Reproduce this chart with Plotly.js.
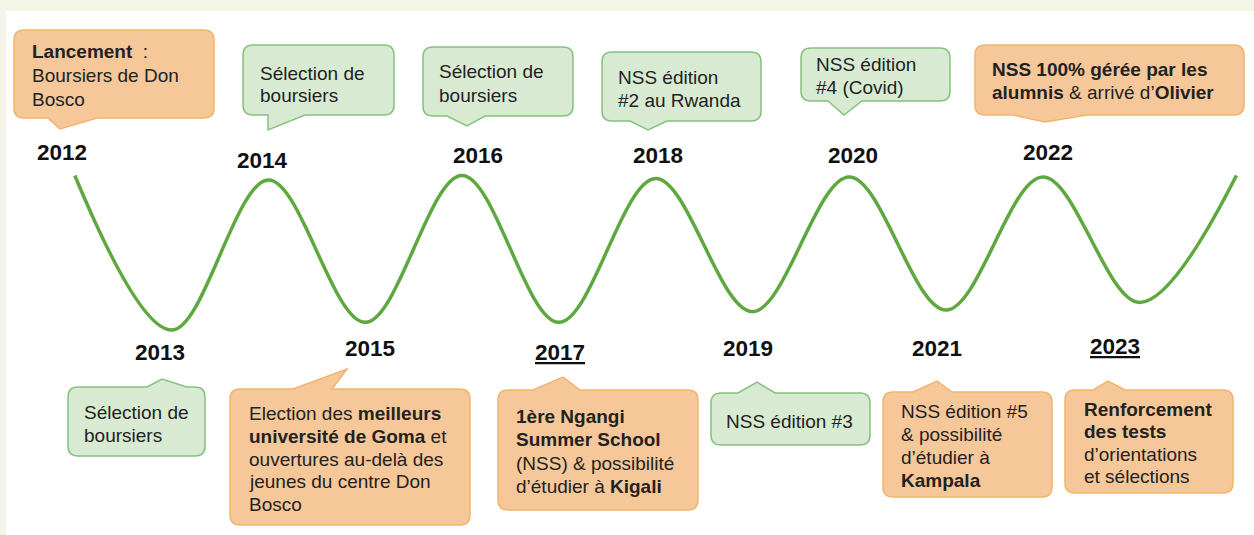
<!DOCTYPE html>
<html>
<head>
<meta charset="utf-8">
<script src="https://cdn.plot.ly/plotly-3.0.1.min.js"></script>
<style>html,body{margin:0;padding:0;background:#fff;}#chart{width:1254px;height:535px;}</style>
</head>
<body>
<div id="chart"></div>
<script>
// ---------------- DATA ----------------
const years = [2012, 2013, 2014, 2015, 2016, 2017, 2018, 2019, 2020, 2021, 2022, 2023];
// Wave: one point per year (peaks / troughs) plus the rising end of the line
const waveX = [2012, 2013, 2014, 2015, 2016, 2017, 2018, 2019, 2020, 2021, 2022, 2023, 2024];
const waveLevel = [101, 0, 98, 5, 101, 5, 99, 12, 100, 13, 100, 18, 101];
const yearLabels = ['2012', '2013', '2014', '2015', '2016', '2017', '2018', '2019', '2020', '2021', '2022', '2023'];
const underlinedYears = [2017, 2023];
const eventKind = ['key', 'sel', 'sel', 'key', 'sel', 'key', 'sel', 'sel', 'sel', 'key', 'key', 'key'];
const eventText = [
  '<b>Lancement</b>  :<br>Boursiers de Don<br>Bosco',
  'Sélection de<br>boursiers',
  'Sélection de<br>boursiers',
  'Election des <b>meilleurs</b><br><b>université de Goma</b> et<br>ouvertures au-delà des<br>jeunes du centre Don<br>Bosco',
  'Sélection de<br>boursiers',
  '<b>1ère Ngangi</b><br><b>Summer School</b><br>(NSS) &amp; possibilité<br>d’étudier à <b>Kigali</b>',
  'NSS édition<br>#2 au Rwanda',
  'NSS édition #3',
  'NSS édition<br>#4 (Covid)',
  'NSS édition #5<br>&amp; possibilité<br>d’étudier à<br><b>Kampala</b>',
  '<b>NSS 100% gérée par les</b><br><b>alumnis</b> &amp; arrivé d’<b>Olivier</b>',
  '<b>Renforcement</b><br><b>des tests</b><br>d’orientations<br>et sélections'
];

// ---------------- LAYOUT (pixel geometry, styles) ----------------
const W = 1254, H = 535, ML = 6, MT = 11;
const PW = W - ML, PH = H - MT;
const px = x => (x - ML) / PW;
const py = y => (H - y) / PH;
// year label centres (pixels)
const labelPos = [[62,153],[160,352],[262,160],[370,348],[478,155],[560,352],[658,155],[748,348],[853,155],[937,348],[1048,153],[1115,346]];
// bubble geometry: box [x0,y0,x1,y1], tail [base1, base2, tipX, tipY], text [x, firstBaseline, lineGap]
const bubbles = [
  {box:[14,30,214,118],  tail:[48,97,60,129],     text:[31,57,24]},
  {box:[68,387,205,456], tail:[147,187,162,379],  text:[83,418,23]},
  {box:[243,45,394,115], tail:[268,305,268,130],  text:[259,79,22]},
  {box:[230,389,470,525],tail:[293,332,347,369],  text:[248,419,22.75]},
  {box:[423,47,573,116], tail:[447,485,467,126],  text:[438,77,23.5]},
  {box:[498,390,698,510],tail:[533,580,563,377],  text:[515,422,23.3]},
  {box:[602,52,761,121], tail:[630,667,648,130],  text:[617,83,23.3]},
  {box:[711,393,870,445],tail:[738,775,757,382],  text:[725,427,23]},
  {box:[801,48,950,101], tail:[828,862,844,115],  text:[815,70,23]},
  {box:[883,392,1052,497],tail:[913,952,937,381], text:[900,417,23]},
  {box:[975,45,1244,115],tail:[1013,1087,1045,122],text:[991,75,23.3]},
  {box:[1065,390,1233,493],tail:[1093,1125,1108,381],text:[1083,415,22.3]}
];
const styles = {
  key: {fill:'#f6c899', line:'#f1b46c'},
  sel: {fill:'#d9ead3', line:'#84c27d'}
};
const FONT = 'Arial, "Liberation Sans", Helvetica, sans-serif';
const FS = 19;
const YEAR_FS = 22.5;

function P(x, y) { return px(x).toFixed(5) + ',' + py(y).toFixed(5); }
function bubblePath(b) {
  const [x0, y0, x1, y1] = b.box;
  const [b1, b2, tx, ty] = b.tail;
  const r = 10;
  const down = ty > y1; // tail below box
  let d = 'M' + P(x0 + r, y0);
  if (!down) { d += ' L' + P(b1, y0) + ' L' + P(tx, ty) + ' L' + P(b2, y0); }
  d += ' L' + P(x1 - r, y0) + ' Q' + P(x1, y0) + ' ' + P(x1, y0 + r);
  d += ' L' + P(x1, y1 - r) + ' Q' + P(x1, y1) + ' ' + P(x1 - r, y1);
  if (down) { d += ' L' + P(b2, y1) + ' L' + P(tx, ty) + ' L' + P(b1, y1); }
  d += ' L' + P(x0 + r, y1) + ' Q' + P(x0, y1) + ' ' + P(x0, y1 - r);
  d += ' L' + P(x0, y0 + r) + ' Q' + P(x0, y0) + ' ' + P(x0 + r, y0) + ' Z';
  return d;
}

const shapes = bubbles.map((b, i) => ({
  type: 'path', xref: 'paper', yref: 'paper', layer: 'above',
  path: bubblePath(b),
  fillcolor: styles[eventKind[i]].fill,
  line: {color: styles[eventKind[i]].line, width: 1.5}
}));

const annotations = [];
years.forEach((yr, i) => {
  const lab = underlinedYears.includes(yr) ? '<u>' + yearLabels[i] + '</u>' : yearLabels[i];
  annotations.push({
    xref: 'paper', yref: 'paper', x: px(labelPos[i][0]), y: py(labelPos[i][1]),
    xanchor: 'center', yanchor: 'middle', showarrow: false,
    text: '<b>' + lab + '</b>',
    font: {family: FONT, size: YEAR_FS, color: '#111111'}
  });
  const b = bubbles[i];
  const lines = eventText[i].split('<br>');
  lines.forEach((ln, j) => {
    const base = b.text[1] + j * b.text[2];
    annotations.push({
      xref: 'paper', yref: 'paper', x: px(b.text[0] - 1), y: py(base - 0.28 * FS),
      xanchor: 'left', yanchor: 'middle', align: 'left', showarrow: false,
      text: ln,
      font: {family: FONT, size: FS, color: '#222222'}
    });
  });
});

const trace = {
  type: 'scatter', mode: 'lines', x: waveX, y: waveLevel,
  line: {shape: 'spline', smoothing: 1, color: '#5ea83f', width: 3.5},
  hoverinfo: 'skip'
};

const xRange = [2012 + (ML - 74.8) / 96.8, 2012 + (W - 74.8) / 96.8];
const yRange = [(330 - H) / 1.53, (330 - MT) / 1.53];

const layout = {
  width: W, height: H,
  margin: {l: ML, r: 0, t: MT, b: 0, pad: 0},
  paper_bgcolor: '#f4f4e7', plot_bgcolor: '#ffffff',
  showlegend: false,
  xaxis: {range: xRange, visible: false, fixedrange: true},
  yaxis: {range: yRange, visible: false, fixedrange: true},
  shapes: shapes,
  annotations: annotations
};

Plotly.newPlot('chart', [trace], layout, {displayModeBar: false, staticPlot: true});
</script>
</body>
</html>
